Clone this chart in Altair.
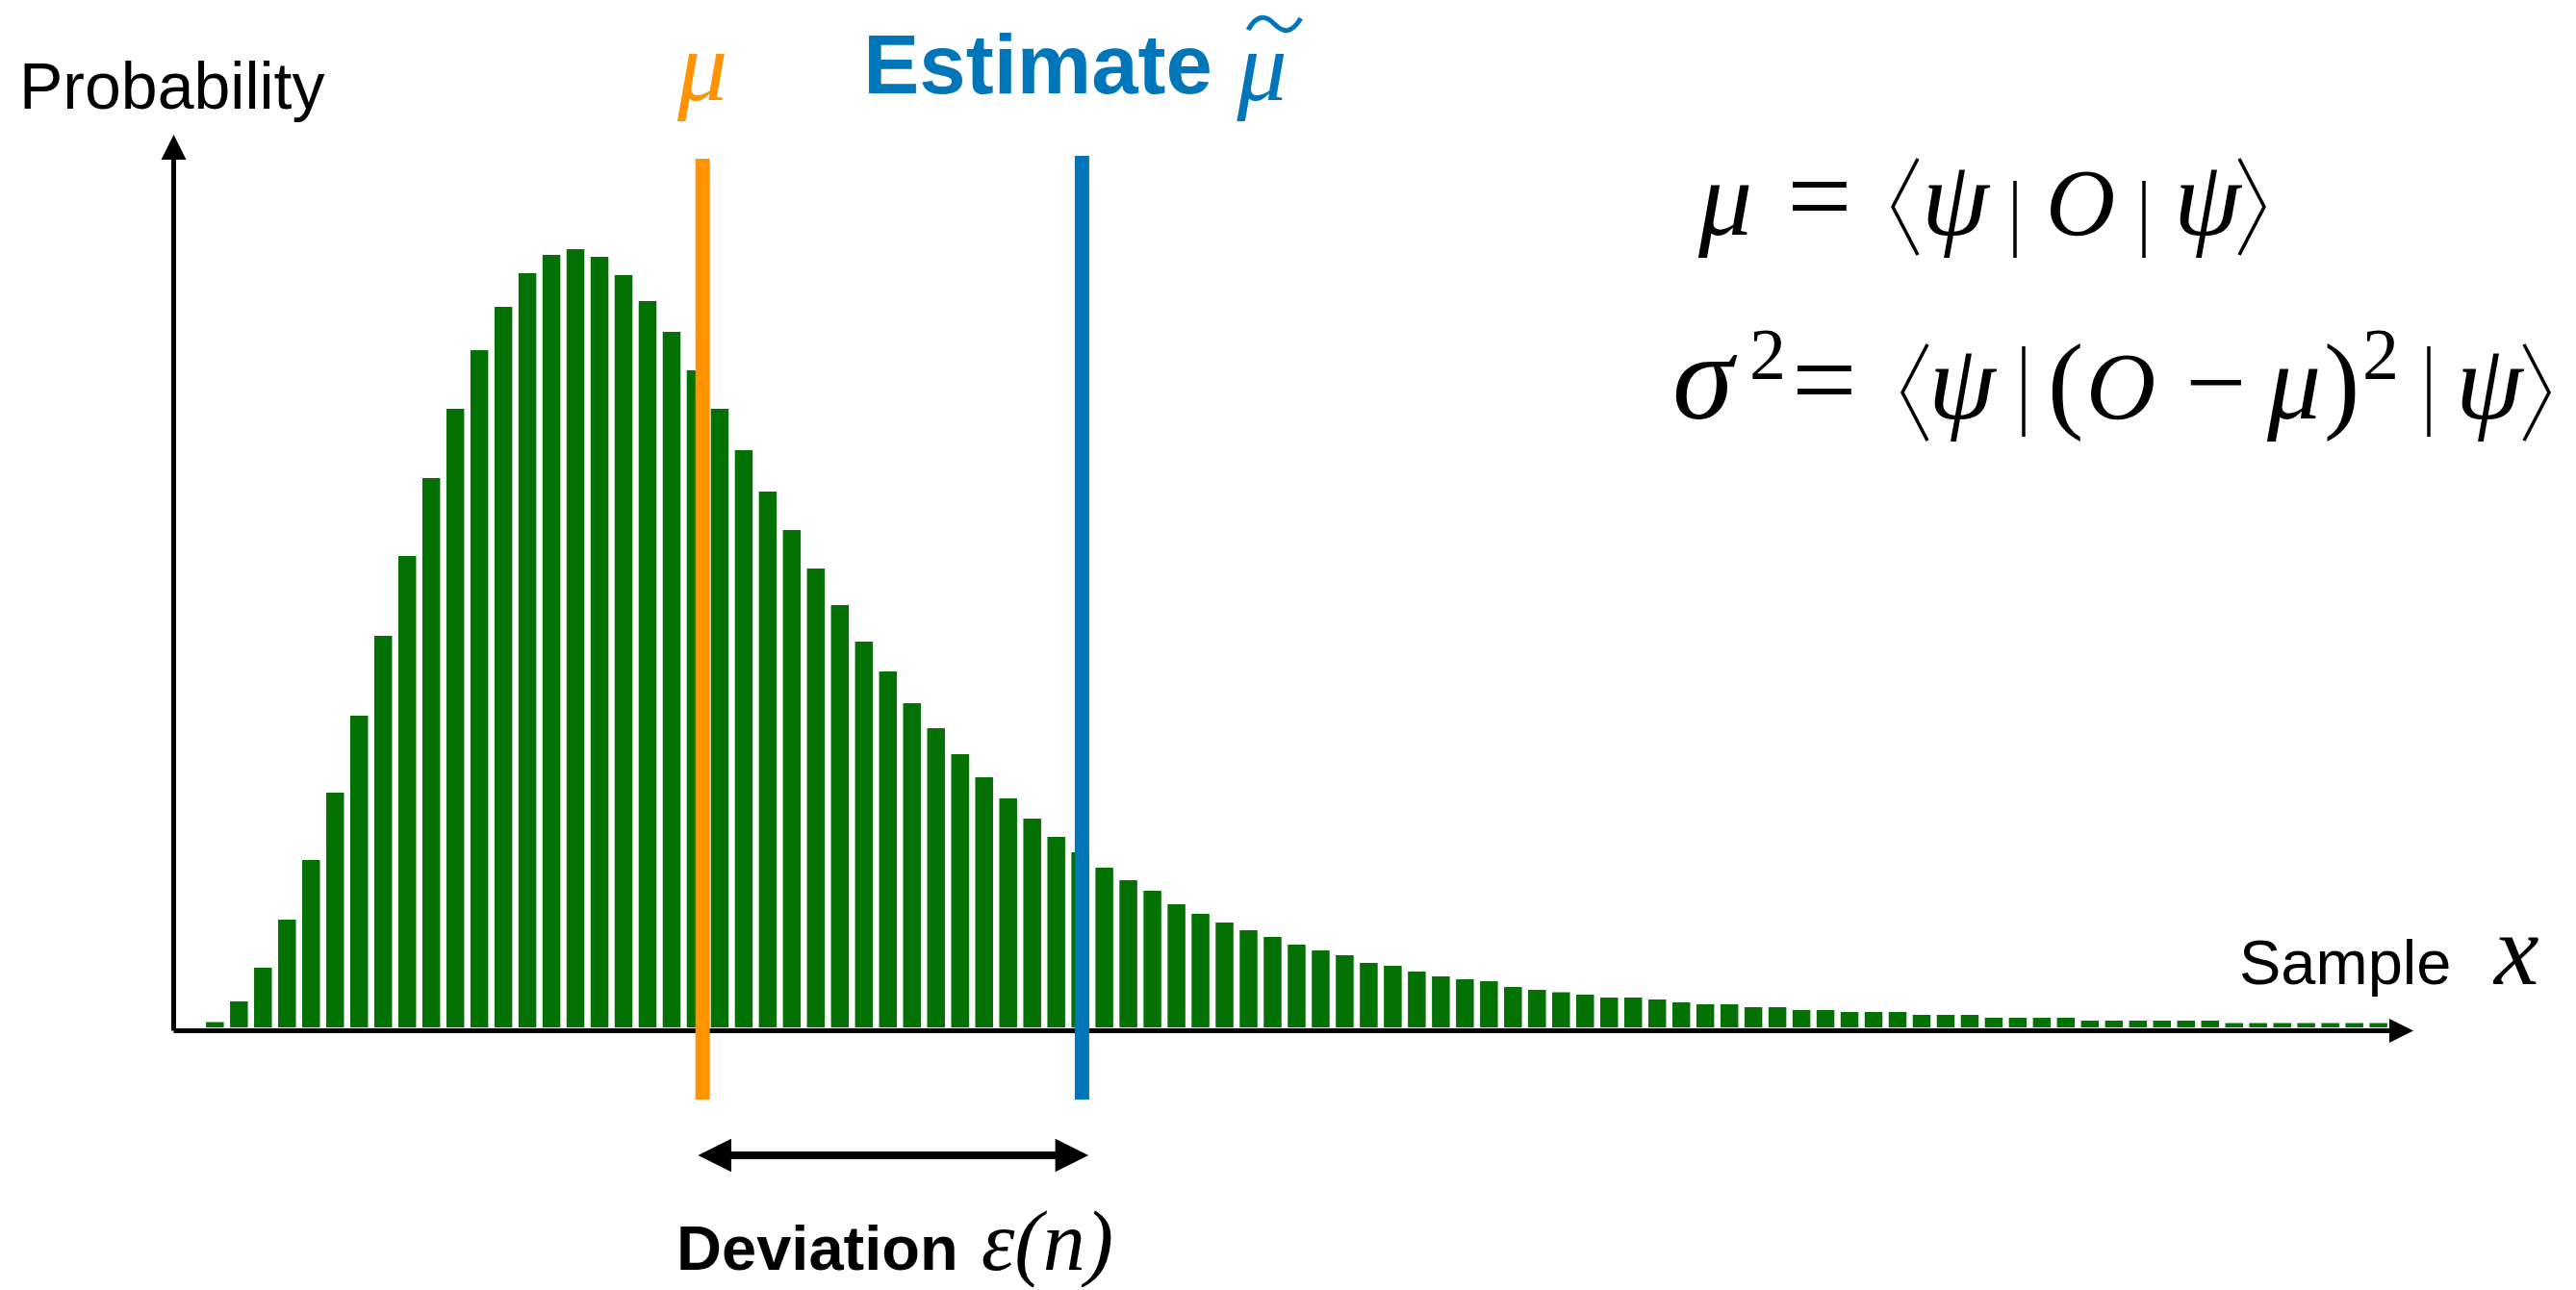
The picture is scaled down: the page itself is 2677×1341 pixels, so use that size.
import altair as alt
import pandas as pd

# ---------------- data ----------------
sample_bins = list(range(1, 92))
counts = [55, 270, 620, 1120, 1740, 2440, 3240, 4070, 4900, 5710,
          6430, 7040, 7490, 7840, 8030, 8090, 8010, 7820, 7550, 7230,
          6830, 6430, 6000, 5570, 5170, 4770, 4390, 4010, 3700, 3370,
          3110, 2840, 2600, 2380, 2170, 1980, 1820, 1660, 1530, 1420,
          1280, 1180, 1090, 1010, 940, 860, 800, 750, 670, 640,
          580, 530, 500, 480, 420, 390, 365, 340, 310, 310,
          290, 260, 240, 240, 210, 210, 180, 180, 160, 160,
          160, 130, 130, 130, 100, 100, 100, 100, 70, 70,
          70, 70, 70, 70, 45, 45, 45, 45, 45, 45, 45]
mu_value = 21.29
estimate_value = 37.07

marker_names = ["mu", "estimate"]
marker_x = [mu_value, estimate_value]
marker_colors = ["#FF9300", "#0076BA"]

y_title = ["Probability"]
x_title = ["Sample"]
x_symbol = ["x"]
mu_label = ["\u03bc"]
estimate_word = ["Estimate"]
estimate_symbol = ["\u03bc"]
deviation_word = ["Deviation"]
deviation_symbol = ["\u03b5(n)"]
# equation pieces: mu = <psi| O |psi>   and   sigma^2 = <psi|(O - mu)^2|psi>
equation_1_pieces = ["\u03bc", "=", "\u03c8", "O", "\u03c8"]
equation_2_pieces = ["\u03c3", "2", "=", "\u03c8", "(", "O", "\u2212",
                     "\u03bc", ")", "2", "\u03c8"]

# ---------------- layout ----------------
GREEN = "#037103"
ORANGE = "#FF9300"
BLUE = "#0076BA"
SANS = "Liberation Sans, Arial, Helvetica, sans-serif"
SERIF = "Liberation Serif, DejaVu Serif, serif"

PLOT_W, PLOT_H = 2303, 911
OX, OY = 180, 160  # page position of the plot origin
PX_X = 25.09
x_min = 1 - (218.5 - OX) / PX_X
x_dom = [x_min, x_min + PLOT_W / PX_X]
y_dom = [-30, 9080]
xs = alt.Scale(domain=x_dom, nice=False, zero=False)
ys = alt.Scale(domain=y_dom, nice=False, zero=False)
AX_X = alt.Axis(title="", labels=False, ticks=False, grid=False,
                domainColor="black", domainWidth=5)
AX_Y = alt.Axis(title="", labels=False, ticks=False, grid=False,
                domainColor="black", domainWidth=5)

hist = pd.DataFrame({"sample": sample_bins, "count": counts})
markers = pd.DataFrame({"name": marker_names, "x": marker_x, "color": marker_colors})

bars = alt.Chart(hist).mark_bar(size=18.5, color=GREEN).encode(
    x=alt.X("sample:Q", scale=xs, axis=AX_X),
    y=alt.Y("count:Q", scale=ys, axis=AX_Y),
    y2=alt.datum(0),
)

mu_rule = alt.Chart(markers[markers.name == "mu"]).mark_rule(
    strokeWidth=15, color=ORANGE).encode(
    x=alt.X("x:Q", scale=xs, axis=AX_X),
    y=alt.value(5), y2=alt.value(983),
)
est_rule = alt.Chart(markers[markers.name == "estimate"]).mark_rule(
    strokeWidth=15, color=BLUE).encode(
    x=alt.X("x:Q", scale=xs, axis=AX_X),
    y=alt.value(2), y2=alt.value(983),
)

# double arrow between mu and the estimate
shaft = alt.Chart(pd.DataFrame({"a": [mu_value], "b": [estimate_value]})).mark_rule(
    strokeWidth=8, color="black", xOffset=20, x2Offset=-20).encode(
    x=alt.X("a:Q", scale=xs, axis=AX_X),
    x2="b:Q",
    y=alt.value(1041),
)
left_head = alt.Chart(pd.DataFrame({"a": [mu_value]})).mark_point(
    shape="M1,-1L-1,0L1,1Z", size=1190, filled=True, opacity=1,
    color="black", xOffset=12.5).encode(
    x=alt.X("a:Q", scale=xs, axis=AX_X), y=alt.value(1041))
right_head = alt.Chart(pd.DataFrame({"b": [estimate_value]})).mark_point(
    shape="M-1,-1L1,0L-1,1Z", size=1190, filled=True, opacity=1,
    color="black", xOffset=-10.5).encode(
    x=alt.X("b:Q", scale=xs, axis=AX_X), y=alt.value(1041))

# axis arrow heads
up_head = alt.Chart(pd.DataFrame({"k": [0]})).mark_point(
    shape="M0,-1L1,1L-1,1Z", size=676, filled=True, opacity=1, color="black").encode(
    x=alt.value(0.5), y=alt.value(-7))
right_axis_head = alt.Chart(pd.DataFrame({"k": [0]})).mark_point(
    shape="M-1,-1L1,0L-1,1Z", size=625, filled=True, opacity=1, color="black").encode(
    x=alt.value(PLOT_W + 12.5), y=alt.value(PLOT_H + 0.5))

# tilde over the estimate's mu
tilde = alt.Chart(pd.DataFrame({"x": [estimate_value]})).mark_point(
    shape="M-1,0.22C-0.62,-0.42 -0.3,-0.3 0,0C0.3,0.3 0.62,0.42 1,-0.22",
    size=3000, filled=False, opacity=1, strokeWidth=5, color=BLUE,
    xOffset=200).encode(
    x=alt.X("x:Q", scale=xs, axis=AX_X), y=alt.value(25 - OY))


def glyph(path, cx, cy, height, width=3.5):
    return alt.Chart(pd.DataFrame({"k": [0]})).mark_point(
        shape=path, size=height * height, filled=False, opacity=1,
        strokeWidth=width, color="black").encode(
        x=alt.value(cx - OX), y=alt.value(cy - OY))


LEFT_BR = "M0.26,-1L-0.26,0L0.26,1"
RIGHT_BR = "M-0.26,-1L0.26,0L-0.26,1"
VBAR = "M0,-1L0,1"


def px_text(values, x, y, font, size, color="black", align="left",
            style="normal", weight="normal"):
    return alt.Chart(pd.DataFrame({"label": values})).mark_text(
        font=font, fontSize=size, color=color, align=align, baseline="alphabetic",
        fontStyle=style, fontWeight=weight).encode(
        x=alt.value(x), y=alt.value(y), text="label:N")


def data_text(values, xval, dx, y, font, size, color="black", align="left",
              style="normal", weight="normal"):
    return alt.Chart(pd.DataFrame({"label": values, "x": [xval]})).mark_text(
        font=font, fontSize=size, color=color, align=align, baseline="alphabetic",
        fontStyle=style, fontWeight=weight, dx=dx).encode(
        x=alt.X("x:Q", scale=xs, axis=AX_X), y=alt.value(y), text="label:N")


# per-piece layout of the equations: (left x on page, baseline y on page, size, style)
eq1_layout = [
    (1765, 244, 112, "italic"), (1857, 244, 120, "normal"),
    (1997, 244, 112, "italic"), (2126, 244, 100, "italic"),
    (2259, 244, 112, "italic"),
]
eq2_layout = [
    (1738, 435, 128, "italic"), (1818, 394, 76, "normal"),
    (1862, 435, 120, "normal"), (2004, 435, 112, "italic"),
    (2128, 435, 112, "normal"), (2168, 435, 100, "italic"),
    (2271, 435, 112, "normal"), (2356, 435, 112, "italic"),
    (2415, 435, 112, "normal"), (2455, 394, 76, "normal"),
    (2552, 435, 112, "italic"),
]

layers = [
    bars, mu_rule, est_rule, shaft, left_head, right_head,
    up_head, right_axis_head, tilde,
    glyph(LEFT_BR, 1980, 215, 100), glyph(RIGHT_BR, 2340, 215, 100),
    glyph(VBAR, 2094, 228, 80, 3.5), glyph(VBAR, 2228, 228, 80, 3.5),
    glyph(LEFT_BR, 1990, 408, 100), glyph(RIGHT_BR, 2636, 408, 100),
    glyph(VBAR, 2103, 407, 94, 3.5), glyph(VBAR, 2524, 407, 94, 3.5),
    px_text(y_title, 20 - OX, 113 - OY, SANS, 68),
    px_text(x_title, 2327 - OX, 1023 - OY, SANS, 65),
    px_text(x_symbol, 2592 - OX, 1023 - OY, SERIF, 105, style="italic"),
    data_text(mu_label, mu_value, 0, 104 - OY, SERIF, 104, color=ORANGE,
              align="center", style="italic"),
    data_text(estimate_word, estimate_value, 135.5, 97 - OY, SANS, 87, color=BLUE,
              align="right", weight="bold"),
    data_text(estimate_symbol, estimate_value, 161, 104 - OY, SERIF, 104, color=BLUE,
              style="italic"),
    data_text(deviation_word, mu_value, 265.5, 1320 - OY, SANS, 65,
              align="right", weight="bold"),
    data_text(deviation_symbol, mu_value, 289.5, 1320 - OY, SERIF, 88, style="italic"),
]
for piece, (px, py, sz, st) in zip(equation_1_pieces, eq1_layout):
    layers.append(px_text([piece], px - OX, py - OY, SERIF, sz, style=st))
for piece, (px, py, sz, st) in zip(equation_2_pieces, eq2_layout):
    layers.append(px_text([piece], px - OX, py - OY, SERIF, sz, style=st))

chart = alt.layer(*layers).properties(
    width=PLOT_W, height=PLOT_H,
    padding={"left": 172, "top": 152, "right": 184, "bottom": 267},
    autosize=alt.AutoSizeParams(type="none"),
    background="white",
).configure_view(strokeWidth=0)

chart.save("out.html", embed_options={"renderer": "svg", "actions": False})
